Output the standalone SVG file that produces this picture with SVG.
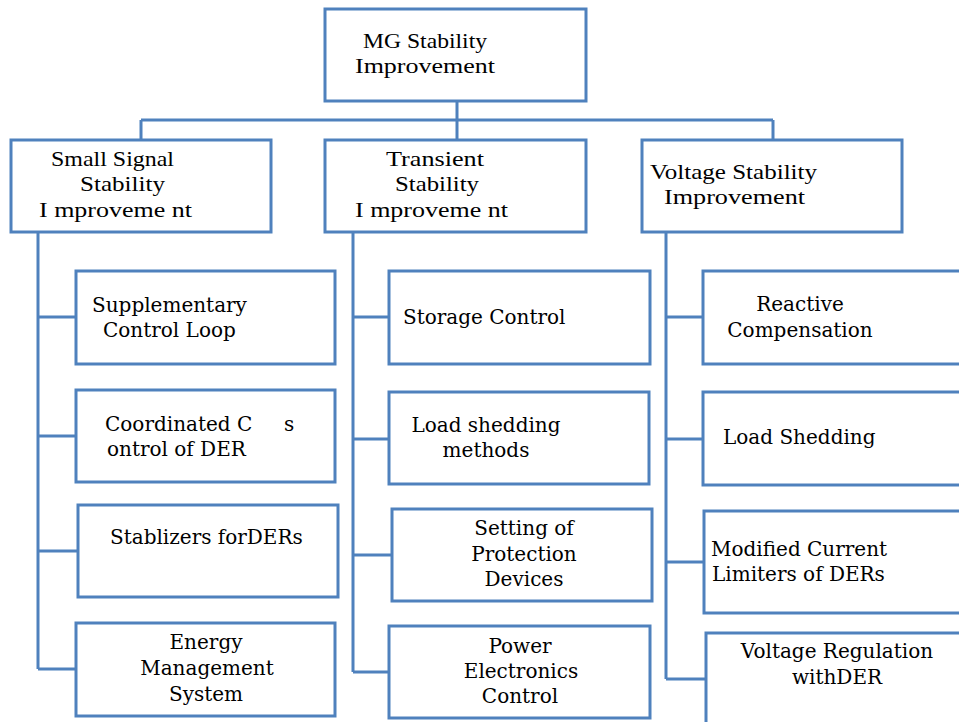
<svg xmlns="http://www.w3.org/2000/svg" width="959" height="722" viewBox="0 0 959 722">
<style>
rect{fill:#fff;stroke:#4F81BD;stroke-width:3}
.c path{fill:none;stroke:#4F81BD;stroke-width:3}
.h{font-family:"Liberation Serif",serif;font-size:22px;fill:#000}
.t{font-family:"DejaVu Serif",serif;font-size:20px;fill:#000}
</style>
<rect width="959" height="722" style="fill:#fff;stroke:none"/>
<g class="c" id="connectors">
<path d="M457 101V139M141 120H773M141 120V139M773 120V139"/>
<path d="M38 232V669M38 317H76M38 436H76M38 551H78M38 669H76"/>
<path d="M353 232V672M353 317H389M353 439H389M353 555H392M353 672H389"/>
<path d="M666 232V679M666 317H703M666 439H703M666 562H704M666 679H706"/>
</g>
<g id="root"><rect x="325" y="9" width="261" height="92"/>
<text class="h"><tspan x="363" y="48" textLength="124" lengthAdjust="spacingAndGlyphs">MG Stability</tspan><tspan x="355" y="73" textLength="140" lengthAdjust="spacingAndGlyphs">Improvement</tspan></text></g>
<g id="small-signal"><rect x="11" y="140" width="260" height="92"/>
<text class="h"><tspan x="51" y="166" textLength="123" lengthAdjust="spacingAndGlyphs">Small Signal</tspan><tspan x="80" y="191" textLength="85" lengthAdjust="spacingAndGlyphs">Stability</tspan><tspan x="39" y="217" textLength="153" lengthAdjust="spacingAndGlyphs">I mproveme nt</tspan></text></g>
<g id="transient"><rect x="325" y="140" width="261" height="92"/>
<text class="h"><tspan x="386" y="166" textLength="98" lengthAdjust="spacingAndGlyphs">Transient</tspan><tspan x="395" y="191" textLength="84" lengthAdjust="spacingAndGlyphs">Stability</tspan><tspan x="355" y="217" textLength="153" lengthAdjust="spacingAndGlyphs">I mproveme nt</tspan></text></g>
<g id="voltage"><rect x="642" y="140" width="260" height="92"/>
<text class="h"><tspan x="650" y="179" textLength="167" lengthAdjust="spacingAndGlyphs">Voltage Stability</tspan><tspan x="664" y="204" textLength="141" lengthAdjust="spacingAndGlyphs">Improvement</tspan></text></g>

<g id="supplementary"><rect x="76" y="271" width="259" height="93"/>
<text class="t"><tspan x="92" y="312">Supplementary</tspan><tspan x="103" y="337">Control Loop</tspan></text></g>
<g id="coordinated"><rect x="76" y="390" width="259" height="92"/>
<text class="t" xml:space="preserve"><tspan x="105" y="431">Coordinated C     s</tspan><tspan x="107" y="456">ontrol of DER</tspan></text></g>
<g id="stablizers"><rect x="78" y="505" width="260" height="92"/>
<text class="t" x="110" y="544">Stablizers forDERs</text></g>
<g id="energy"><rect x="76" y="623" width="259" height="93"/>
<text class="t" text-anchor="middle"><tspan x="206" y="649">Energy</tspan><tspan x="207" y="675">Management</tspan><tspan x="206" y="701">System</tspan></text></g>

<g id="storage"><rect x="389" y="271" width="261" height="93"/>
<text class="t" x="403" y="324">Storage Control</text></g>
<g id="load-shedding-methods"><rect x="389" y="392" width="260" height="92"/>
<text class="t" text-anchor="middle"><tspan x="486" y="432">Load shedding</tspan><tspan x="486" y="457">methods</tspan></text></g>
<g id="protection"><rect x="392" y="509" width="260" height="92"/>
<text class="t" text-anchor="middle"><tspan x="524" y="535">Setting of</tspan><tspan x="524" y="561">Protection</tspan><tspan x="524" y="586">Devices</tspan></text></g>
<g id="power-electronics"><rect x="389" y="626" width="261" height="92"/>
<text class="t" text-anchor="middle"><tspan x="520" y="653">Power</tspan><tspan x="521" y="678">Electronics</tspan><tspan x="520" y="703">Control</tspan></text></g>

<g id="reactive"><rect x="703" y="271" width="265" height="93"/>
<text class="t" text-anchor="middle"><tspan x="800" y="311">Reactive</tspan><tspan x="800" y="337">Compensation</tspan></text></g>
<g id="load-shedding"><rect x="703" y="392" width="265" height="93"/>
<text class="t" x="723" y="444">Load Shedding</text></g>
<g id="current-limiters"><rect x="704" y="511" width="265" height="102"/>
<text class="t"><tspan x="711" y="556">Modified Current</tspan><tspan x="712" y="581">Limiters of DERs</tspan></text></g>
<g id="voltage-regulation"><rect x="706" y="633" width="265" height="100"/>
<text class="t" text-anchor="middle"><tspan x="837" y="658">Voltage Regulation</tspan><tspan x="837" y="684">withDER</tspan></text></g>
</svg>
